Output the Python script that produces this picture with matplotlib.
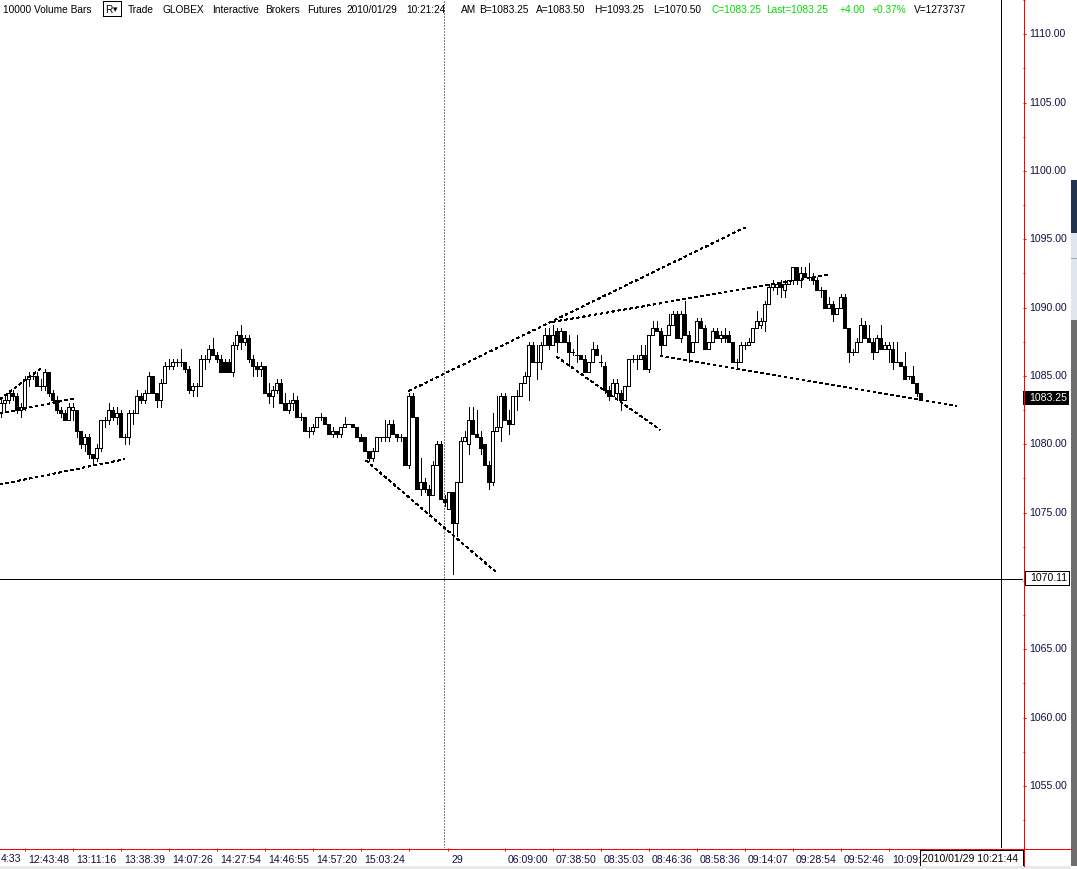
import numpy as np
import matplotlib
matplotlib.use('Agg')
import matplotlib.pyplot as plt
import matplotlib.transforms as mtransforms
from matplotlib.patches import Rectangle
from matplotlib.lines import Line2D

plt.rcParams['font.family'] = ['Liberation Sans', 'DejaVu Sans']

# 10000 volume bars, ES futures, 2010/01/28-29
opens = [
    1082.25, 1083.0, 1083.25, 1083.75, 1083.5, 1082.5, 1082.75, 1084.75, 1085.0, 1085.0,
    1084.25, 1084.25, 1085.25, 1083.75, 1083.25, 1082.5, 1082.25, 1081.75, 1082.5, 1082.5,
    1081.0, 1080.0, 1080.5, 1079.25, 1079.0, 1079.75, 1081.75, 1081.75, 1082.5, 1082.0,
    1082.25, 1080.5, 1080.5, 1082.25, 1082.25, 1083.5, 1083.25, 1083.75, 1085.0, 1083.75,
    1083.25, 1084.5, 1085.75, 1085.75, 1086.0, 1086.0, 1086.0, 1085.5, 1084.0, 1084.25,
    1084.25, 1086.25, 1086.25, 1087.0, 1086.5, 1086.25, 1086.0, 1086.0, 1085.25, 1087.25,
    1088.0, 1087.5, 1087.75, 1086.25, 1085.75, 1085.5, 1085.75, 1083.75, 1083.5, 1084.0,
    1084.5, 1083.0, 1082.5, 1083.0, 1083.25, 1082.0, 1082.0, 1081.0, 1081.0, 1081.25,
    1082.0, 1082.0, 1081.5, 1080.75, 1081.0, 1080.75, 1081.25, 1081.5, 1081.5, 1081.25,
    1080.5, 1080.5, 1079.5, 1079.0, 1079.5, 1080.5, 1080.5, 1080.5, 1081.5, 1080.75,
    1080.5, 1080.5, 1078.5, 1083.5, 1082.0, 1076.75, 1077.25, 1076.75, 1076.25, 1078.5,
    1080.0, 1076.0, 1075.25, 1076.5, 1074.25, 1077.25, 1080.25, 1080.0, 1081.75, 1080.75,
    1080.5, 1080.0, 1078.5, 1077.25, 1081.0, 1081.25, 1083.5, 1081.75, 1081.5, 1083.5,
    1083.5, 1084.5, 1085.0, 1087.25, 1086.0, 1086.0, 1087.25, 1088.0, 1087.25, 1088.25,
    1087.5, 1088.25, 1087.5, 1086.75, 1086.5, 1086.5, 1086.25, 1085.25, 1086.0, 1087.0,
    1086.0, 1085.75, 1084.0, 1083.5, 1083.75, 1083.75, 1083.25, 1084.25, 1086.25, 1086.25,
    1086.25, 1086.5, 1085.5, 1088.0, 1088.5, 1088.25, 1087.25, 1088.0, 1088.75, 1089.5,
    1087.75, 1089.5, 1088.0, 1086.75, 1087.5, 1089.0, 1088.5, 1087.0, 1087.5, 1088.25,
    1087.75, 1088.0, 1088.0, 1087.5, 1086.0, 1086.0, 1087.25, 1087.25, 1087.5, 1088.5,
    1088.75, 1089.0, 1090.25, 1091.5, 1091.5, 1091.75, 1091.25, 1091.75, 1092.0, 1093.0,
    1092.0, 1092.5, 1092.25, 1092.25, 1092.0, 1091.25, 1091.25, 1090.0, 1090.25, 1089.5,
    1090.0, 1090.75, 1088.5, 1086.75, 1086.75, 1087.5, 1088.75, 1087.75, 1087.5, 1086.75,
    1087.75, 1087.0, 1087.0, 1087.0, 1086.0, 1086.0, 1085.75, 1085.0, 1085.0, 1084.5,
    1083.75,
]
highs = [
    1083.25, 1083.5, 1084.0, 1084.0, 1083.75, 1083.0, 1085.0, 1085.25, 1085.25, 1085.25,
    1084.75, 1085.5, 1085.25, 1084.0, 1083.5, 1082.75, 1082.5, 1083.0, 1083.0, 1082.5,
    1081.0, 1080.75, 1080.75, 1079.25, 1080.0, 1081.75, 1082.0, 1083.0, 1082.75, 1082.75,
    1082.5, 1080.75, 1082.5, 1082.5, 1084.0, 1083.75, 1084.0, 1085.25, 1085.0, 1083.75,
    1084.75, 1086.0, 1086.25, 1086.25, 1086.25, 1087.0, 1086.0, 1085.75, 1084.5, 1084.5,
    1086.5, 1086.5, 1087.25, 1087.75, 1086.75, 1086.5, 1086.25, 1086.25, 1087.5, 1088.25,
    1088.75, 1088.0, 1088.0, 1086.5, 1086.0, 1086.0, 1085.75, 1084.5, 1084.25, 1084.75,
    1084.75, 1083.75, 1083.25, 1083.75, 1083.5, 1082.25, 1082.0, 1081.25, 1081.5, 1082.0,
    1082.25, 1082.0, 1081.5, 1081.25, 1081.0, 1081.25, 1082.0, 1081.5, 1081.5, 1081.25,
    1080.75, 1080.5, 1079.5, 1079.75, 1080.5, 1080.5, 1081.75, 1081.75, 1081.75, 1080.75,
    1080.75, 1080.5, 1083.75, 1083.75, 1082.0, 1079.0, 1077.5, 1077.0, 1078.75, 1080.25,
    1080.25, 1076.25, 1076.5, 1076.5, 1077.25, 1080.5, 1081.0, 1082.75, 1082.75, 1082.5,
    1081.0, 1080.0, 1078.75, 1082.25, 1083.5, 1083.75, 1083.75, 1082.5, 1083.5, 1084.0,
    1084.5, 1085.25, 1087.5, 1087.5, 1087.25, 1087.5, 1088.5, 1088.5, 1088.75, 1088.5,
    1088.5, 1088.25, 1088.0, 1087.0, 1088.0, 1086.5, 1086.5, 1086.0, 1087.5, 1087.25,
    1086.5, 1086.0, 1084.25, 1084.75, 1084.75, 1084.0, 1084.25, 1086.25, 1086.5, 1086.5,
    1087.25, 1087.25, 1088.0, 1089.0, 1089.0, 1088.5, 1088.0, 1089.5, 1089.75, 1089.75,
    1089.75, 1090.5, 1088.25, 1087.5, 1089.25, 1089.25, 1088.75, 1087.5, 1088.5, 1088.5,
    1088.25, 1088.5, 1088.25, 1087.5, 1086.25, 1087.5, 1087.5, 1087.75, 1088.5, 1089.75,
    1089.25, 1090.5, 1091.75, 1092.0, 1091.75, 1092.0, 1092.0, 1092.0, 1093.0, 1093.0,
    1093.0, 1093.0, 1093.25, 1092.5, 1092.25, 1091.5, 1091.25, 1090.75, 1090.5, 1090.0,
    1091.0, 1091.0, 1088.5, 1087.0, 1087.75, 1089.25, 1089.0, 1088.75, 1087.75, 1088.0,
    1088.75, 1087.5, 1087.5, 1087.5, 1087.5, 1086.0, 1086.75, 1085.0, 1085.75, 1084.5,
    1083.75,
]
lows = [
    1082.0, 1082.5, 1083.0, 1083.25, 1082.25, 1082.0, 1082.5, 1084.25, 1084.75, 1084.25,
    1084.0, 1084.0, 1083.5, 1083.0, 1082.25, 1082.0, 1081.75, 1081.75, 1081.75, 1080.5,
    1079.75, 1079.5, 1079.0, 1078.5, 1078.75, 1079.5, 1081.25, 1081.5, 1081.75, 1081.5,
    1080.5, 1080.0, 1080.0, 1081.5, 1082.25, 1083.0, 1083.0, 1083.75, 1083.75, 1082.75,
    1082.75, 1084.5, 1085.5, 1085.5, 1085.75, 1085.75, 1085.25, 1083.75, 1083.5, 1083.5,
    1084.25, 1085.5, 1086.0, 1086.5, 1086.0, 1085.25, 1085.25, 1085.25, 1085.0, 1087.0,
    1087.0, 1087.25, 1086.0, 1085.0, 1085.0, 1085.0, 1083.75, 1083.0, 1082.75, 1083.75,
    1083.0, 1082.5, 1082.25, 1082.5, 1082.0, 1081.75, 1081.0, 1080.5, 1080.75, 1081.25,
    1081.75, 1081.5, 1080.75, 1080.5, 1080.5, 1080.5, 1081.25, 1081.5, 1081.25, 1080.5,
    1080.25, 1079.5, 1078.75, 1078.75, 1079.5, 1080.25, 1080.25, 1080.25, 1080.75, 1080.25,
    1080.25, 1078.5, 1078.25, 1082.0, 1076.75, 1076.25, 1076.5, 1075.0, 1076.25, 1078.5,
    1076.0, 1075.5, 1075.25, 1070.5, 1073.25, 1077.25, 1080.25, 1079.25, 1080.75, 1080.5,
    1079.25, 1078.5, 1076.75, 1077.0, 1081.0, 1080.25, 1081.75, 1080.75, 1081.5, 1082.5,
    1083.5, 1084.5, 1083.25, 1086.0, 1084.75, 1085.5, 1087.25, 1087.0, 1087.25, 1086.75,
    1087.5, 1087.5, 1085.75, 1086.5, 1086.0, 1086.25, 1085.25, 1085.25, 1086.0, 1086.5,
    1085.75, 1083.75, 1083.25, 1083.5, 1083.25, 1082.5, 1083.25, 1084.25, 1086.0, 1085.5,
    1086.25, 1085.5, 1085.25, 1088.0, 1088.25, 1086.5, 1087.25, 1088.0, 1088.75, 1087.75,
    1087.5, 1088.0, 1086.0, 1086.75, 1087.5, 1088.5, 1087.0, 1087.0, 1087.5, 1087.75,
    1087.5, 1087.5, 1087.5, 1086.0, 1085.5, 1086.0, 1087.0, 1087.25, 1087.5, 1088.5,
    1088.5, 1088.25, 1090.25, 1091.25, 1091.0, 1090.75, 1090.75, 1091.75, 1091.75, 1091.75,
    1091.5, 1092.25, 1092.0, 1091.75, 1091.25, 1090.75, 1090.0, 1090.0, 1089.0, 1089.5,
    1090.0, 1088.5, 1086.0, 1086.5, 1086.75, 1087.5, 1087.75, 1087.5, 1086.25, 1086.75,
    1087.0, 1087.0, 1086.0, 1085.5, 1086.0, 1085.75, 1084.75, 1084.75, 1084.5, 1083.5,
    1083.25,
]
closes = [
    1083.0, 1083.25, 1083.75, 1083.5, 1082.5, 1082.75, 1084.75, 1085.0, 1085.0, 1084.25,
    1084.25, 1085.25, 1083.75, 1083.25, 1082.5, 1082.25, 1081.75, 1082.75, 1082.75, 1081.0,
    1080.0, 1080.5, 1079.25, 1079.0, 1079.75, 1081.75, 1081.75, 1082.5, 1082.0, 1082.25,
    1080.5, 1080.5, 1082.25, 1082.25, 1083.5, 1083.25, 1083.75, 1085.0, 1083.75, 1083.25,
    1084.5, 1085.75, 1085.75, 1086.0, 1086.0, 1086.0, 1085.5, 1084.0, 1084.25, 1084.25,
    1086.25, 1086.25, 1087.0, 1086.5, 1086.25, 1085.25, 1085.25, 1085.25, 1087.25, 1088.0,
    1087.5, 1087.75, 1086.25, 1085.75, 1085.5, 1085.75, 1083.75, 1083.5, 1084.0, 1084.5,
    1083.0, 1082.5, 1083.0, 1083.25, 1082.0, 1082.0, 1081.0, 1081.0, 1081.25, 1082.0,
    1082.0, 1081.5, 1080.75, 1081.0, 1080.75, 1081.25, 1081.5, 1081.5, 1081.25, 1080.5,
    1080.25, 1079.5, 1079.0, 1079.5, 1080.5, 1080.5, 1080.5, 1081.5, 1080.75, 1080.5,
    1080.5, 1078.5, 1083.5, 1082.0, 1076.75, 1077.25, 1076.75, 1076.25, 1078.5, 1080.0,
    1076.0, 1075.75, 1076.5, 1074.25, 1077.25, 1080.25, 1080.5, 1081.75, 1080.75, 1080.5,
    1079.75, 1078.5, 1077.25, 1081.0, 1081.25, 1083.5, 1081.75, 1081.5, 1083.5, 1083.5,
    1084.5, 1085.0, 1087.25, 1086.0, 1086.0, 1087.25, 1088.0, 1087.25, 1088.0, 1087.5,
    1088.25, 1087.5, 1086.75, 1086.75, 1086.5, 1086.25, 1085.25, 1086.0, 1087.0, 1086.5,
    1086.0, 1084.0, 1083.5, 1084.5, 1084.5, 1083.25, 1084.25, 1086.25, 1086.25, 1086.25,
    1086.5, 1085.5, 1088.0, 1088.5, 1088.25, 1087.25, 1088.0, 1088.75, 1089.5, 1087.75,
    1089.5, 1088.0, 1086.75, 1087.5, 1089.0, 1088.5, 1087.0, 1087.5, 1088.25, 1087.75,
    1088.0, 1087.75, 1087.5, 1086.0, 1086.0, 1087.25, 1087.25, 1087.5, 1088.5, 1089.0,
    1089.0, 1090.25, 1091.5, 1091.75, 1091.75, 1091.5, 1091.75, 1092.0, 1093.0, 1092.0,
    1092.5, 1092.25, 1092.25, 1092.0, 1091.25, 1091.25, 1090.0, 1090.25, 1089.5, 1090.0,
    1090.75, 1088.5, 1086.75, 1086.75, 1087.5, 1088.75, 1087.75, 1087.5, 1086.75, 1087.75,
    1087.0, 1087.25, 1087.25, 1086.0, 1086.0, 1085.75, 1084.75, 1085.0, 1084.5, 1083.75,
    1083.25,
]

# hand-drawn trend lines (bar index, price)
trend_x0 = [-0.1, -0.1, -0.1, 91.4, 102.1, 138.1, 139.05, 164.9]
trend_y0 = [1077.05, 1082.25, 1083.3, 1078.8, 1083.9, 1088.95, 1086.4, 1086.45]
trend_x1 = [31.1, 18.6, 9.9, 124.05, 186.1, 207.55, 164.9, 239.05]
trend_y1 = [1078.9, 1083.35, 1085.5, 1070.6, 1095.85, 1092.45, 1081.05, 1082.8]

price_ticks = np.arange(1055, 1111, 5)
price_minor = np.arange(1052.5, 1112.6, 2.5)
time_ticks = [6, 18, 30, 42, 54, 66, 78, 90, 102, 111.9, 126, 138, 150, 162, 174, 186, 198, 210, 222]
time_labels = ['12:43:48', '13:11:16', '13:38:39', '14:07:26', '14:27:54', '14:46:55',
               '14:57:20', '15:03:24', '', '29', '06:09:00', '07:38:50', '08:35:03',
               '08:46:36', '08:58:36', '09:14:07', '09:28:54', '09:52:46', '10:09:']
day_break = 110.9
cross_bar = 250.125
cross_price = 1070.11
last_price = 1083.25

header = [(3.4, '10000 Volume Bars', 'black'), (128, 'Trade', 'black'),
          (162.7, 'GLOBEX', 'black'), (211.7, 'Interactive', 'black'),
          (265, 'Brokers', 'black'), (306.7, 'Futures', 'black'),
          (346.7, '2010/01/29', 'black'), (406.7, '10:21:24', 'black'),
          (460.5, 'AM', 'black'), (479, 'B=1083.25', 'black'),
          (535.5, 'A=1083.50', 'black'), (594.5, 'H=1093.25', 'black'),
          (652.8, 'L=1070.50', 'black'), (711, 'C=1083.25', '#00dd00'),
          (766.5, 'Last=1083.25', '#00dd00'), (839, '+4.00', '#00dd00'),
          (871.5, '+0.37%', '#00dd00'), (914, 'V=1273737', 'black')]

W, H = 1077, 869
FS = 7.6
HFS = 7.3
LAB = '#101040'
fig = plt.figure(figsize=(W / 100, H / 100), dpi=100)
fig.patch.set_facecolor('white')


def fx(px):
    return px / W


def fy(py):
    return 1 - py / H


ax = fig.add_axes([0, fy(848), fx(1023), 848 / H])
ax.set_facecolor('white')
for s in ax.spines.values():
    s.set_visible(False)

x = np.arange(len(opens))
o = np.array(opens)
c = np.array(closes)
up = c >= o
ax.vlines(x, lows, highs, color='black', lw=0.72, antialiased=False, zorder=3)
ax.bar(x, np.abs(c - o), bottom=np.minimum(o, c), width=0.55,
       color=np.where(up, 'white', 'black'), edgecolor='black', linewidth=0.72,
       antialiased=False, zorder=4)

for a0, b0, a1, b1 in zip(trend_x0, trend_y0, trend_x1, trend_y1):
    ax.plot([a0, a1], [b0, b1], color='black', lw=0.6, ls=(0, (3.0, 3.6)),
            antialiased=False, zorder=5)

ax.axvline(day_break, color='#808080', lw=0.72, ls=(0, (2, 2)), antialiased=False, zorder=2)
ax.axvline(cross_bar, color='black', lw=0.72, antialiased=False, zorder=6)
ax.axhline(cross_price, color='black', lw=0.72, antialiased=False, zorder=6)

ax.set_xlim(-0.125, 255.625)
ax.set_ylim(1110 - (848 - 31) / 13.72, 1110 + 31 / 13.72)

ax.yaxis.tick_right()
ax.set_yticks(price_ticks)
# the 1070 label sits under the cursor price box
ax.set_yticklabels(['' if p == 1070 else '%.2f' % p for p in price_ticks])
ax.set_yticks(price_minor, minor=True)
ax.tick_params(axis='y', which='major', colors='red', length=2.2, width=0.72,
               pad=2.4, labelsize=FS, labelcolor=LAB)
ax.tick_params(axis='y', which='minor', colors='red', length=1.5, width=0.72)
for lab in ax.get_yticklabels():
    lab.set_verticalalignment('center')

ax.set_xticks(time_ticks)
ax.set_xticklabels(time_labels)
ax.tick_params(axis='x', colors='red', length=2.2, width=0.72, pad=2.6,
               labelsize=FS, labelcolor=LAB)
shift = mtransforms.ScaledTranslation(3.4 / 100, 0, fig.dpi_scale_trans)
for lab in ax.get_xticklabels():
    lab.set_horizontalalignment('left')
    lab.set_transform(lab.get_transform() + shift)
fig.text(fx(0.5), fy(862.5), '4:33', fontsize=FS, color=LAB, va='baseline')

# red axis lines
fig.add_artist(Line2D([0, fx(1071)], [fy(848.5), fy(848.5)], color='red', lw=0.72,
                      antialiased=False))
fig.add_artist(Line2D([fx(1023.5), fx(1023.5)], [fy(0), fy(866)], color='red', lw=0.72,
                      antialiased=False))

# header line
for hx, txt, col in header:
    fig.text(fx(hx), fy(13), txt, fontsize=HFS, color=col, va='baseline')
fig.add_artist(Rectangle((fx(103), fy(16)), 18 / W, 15 / H, fill=False,
                         edgecolor='black', lw=0.72, antialiased=False))
fig.text(fx(105.5), fy(13), 'R', fontsize=HFS, color='black', va='baseline')
fig.text(fx(113), fy(12.5), '\u25be', fontsize=HFS - 1, color='black', va='baseline',
         family=['DejaVu Sans'])

# price markers on the axis
lp_y = 31 + (1110 - last_price) * 13.72
fig.add_artist(Rectangle((fx(1023), fy(lp_y + 7)), 46 / W, 14 / H, facecolor='black',
                         edgecolor='black', lw=0))
fig.text(fx(1029.5), fy(lp_y), '%.2f' % last_price, fontsize=FS, color='white',
         va='center')
cp_y = 31 + (1110 - cross_price) * 13.72
fig.add_artist(Rectangle((fx(1024.5), fy(cp_y + 7)), 44.5 / W, 14.5 / H,
                         facecolor='white', edgecolor='black', lw=0.72, antialiased=False))
fig.text(fx(1030), fy(cp_y), '%.2f' % cross_price, fontsize=FS, color='black',
         va='center')

# cursor time box
fig.add_artist(Rectangle((fx(920), fy(866.5)), 102.5 / W, 17 / H, facecolor='white',
                         edgecolor='black', lw=0.72, antialiased=False))
fig.text(fx(921.5), fy(862.5), '2010/01/29 10:21:44', fontsize=FS, color='black',
         va='baseline')

# window chrome on the right and bottom
fig.add_artist(Rectangle((fx(1071), fy(233)), 6 / W, 53 / H, facecolor='#22324f', lw=0))
fig.add_artist(Rectangle((fx(1071), fy(320)), 6 / W, 87 / H, facecolor='#dfe6ee', lw=0))
fig.add_artist(Line2D([fx(1071), 1], [fy(258), fy(258)], color='#a0a8b0', lw=0.72))
fig.add_artist(Rectangle((fx(1071), fy(866)), 6 / W, 546 / H, facecolor='#6e6e6e', lw=0))
fig.add_artist(Rectangle((0, 0), fx(1071), 3 / H, facecolor='#e9e9e9', lw=0))

fig.savefig('out.png', dpi=100, facecolor='white')
